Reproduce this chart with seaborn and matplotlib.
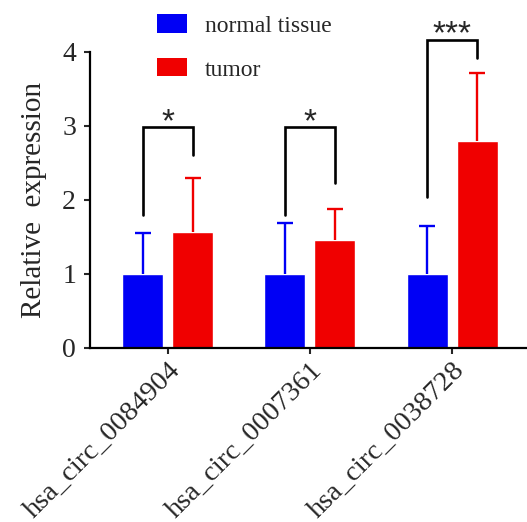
import numpy as np
import pandas as pd
import seaborn as sns
import matplotlib.pyplot as plt
from matplotlib.patches import Patch

# data
genes = ['hsa_circ_0084904', 'hsa_circ_0007361', 'hsa_circ_0038728']
groups = ['normal tissue', 'tumor']
normal_mean = [1.0, 1.0, 1.0]
normal_err = [0.55, 0.68, 0.65]
tumor_mean = [1.56, 1.46, 2.79]
tumor_err = [0.74, 0.42, 0.92]
# significance brackets
bracket_left = [1.79, 1.79, 2.04]
bracket_right = [2.61, 2.22, 3.92]
bracket_top = [2.98, 2.98, 4.16]
stars = ['*', '*', '***']

colors = {'normal tissue': '#0000F5', 'tumor': '#F00000'}

df = pd.DataFrame({
    'gene': genes * 2,
    'group': [groups[0]] * 3 + [groups[1]] * 3,
    'value': normal_mean + tumor_mean,
    'err': normal_err + tumor_err,
})

sns.set_style('white')
plt.rcParams['font.family'] = ['Liberation Serif', 'DejaVu Serif']

fig = plt.figure(figsize=(5.27, 5.22), dpi=100)
ax = fig.add_axes([90 / 527, (522 - 347.7) / 522, (527 - 90) / 527, 296 / 522])

sns.barplot(data=df, x='gene', y='value', hue='group', order=genes,
            hue_order=groups, palette=colors, width=0.704, gap=0.18,
            errorbar=None, saturation=1, ax=ax, legend=False)

# one-sided error bars (upper only)
for bars, grp in zip(ax.containers, groups):
    sub = df[df.group == grp].set_index('gene').loc[genes]
    xs = [b.get_x() + b.get_width() / 2 for b in bars]
    eb = ax.errorbar(xs, sub['value'], yerr=[np.zeros(len(xs)), sub['err']],
                     fmt='none', ecolor=colors[grp], elinewidth=1.7,
                     capsize=5.5, capthick=1.7, zorder=3)
    eb[1][0].set_visible(False)

# significance brackets
xl = [b.get_x() + b.get_width() / 2 for b in ax.containers[0]]
xr = [b.get_x() + b.get_width() / 2 for b in ax.containers[1]]
for i in range(len(genes)):
    ax.plot([xl[i], xl[i], xr[i], xr[i]],
            [bracket_left[i], bracket_top[i], bracket_top[i], bracket_right[i]],
            color='black', lw=1.9, clip_on=False, solid_joinstyle='miter')
    ax.text((xl[i] + xr[i]) / 2, bracket_top[i] - 0.05, stars[i],
            ha='center', va='baseline', fontsize=24, family='Liberation Sans',
            clip_on=False)

ax.set_xlim(-0.549, 2.528)
ax.set_ylim(0, 4)
ax.set_yticks([0, 1, 2, 3, 4])
ax.set_ylabel('Relative  expression', fontsize=21, labelpad=11)
ax.set_xlabel('')
ax.set_xticks(range(len(genes)))
ax.set_xticklabels(genes, rotation=45, ha='right', rotation_mode='anchor',
                   fontsize=20.5)
ax.tick_params(axis='y', labelsize=20, length=4, width=1.5, pad=6, left=True)
ax.tick_params(axis='x', length=4, width=1.5, pad=3, bottom=True)

for s in ['top', 'right']:
    ax.spines[s].set_visible(False)
for s in ['left', 'bottom']:
    ax.spines[s].set_linewidth(1.6)
    ax.spines[s].set_color('black')

handles = [Patch(facecolor=colors[g], edgecolor='none') for g in groups]
fig.legend(handles, groups, loc='upper left', bbox_to_anchor=(0.257, 1.013),
           frameon=False, fontsize=17, handlelength=1.3, handleheight=0.8,
           handletextpad=0.75, labelspacing=0.92)

fig.savefig('out.png', dpi=100)
